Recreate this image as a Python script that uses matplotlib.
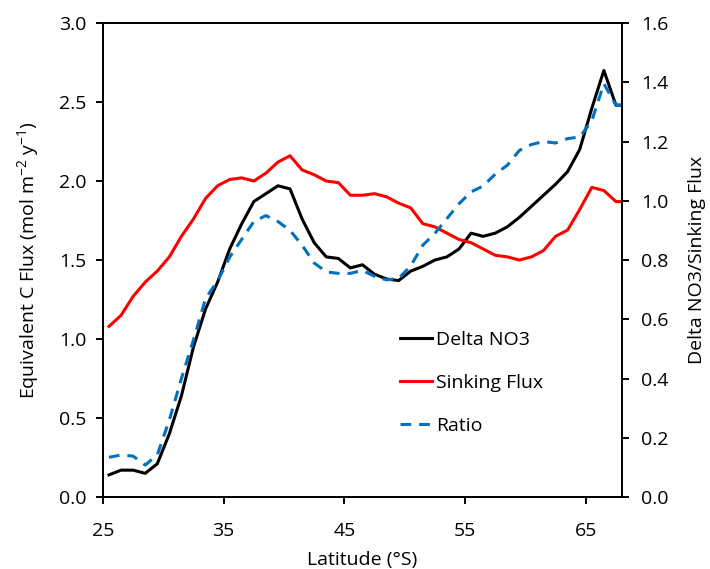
import matplotlib
matplotlib.use("Agg")
import matplotlib.pyplot as plt

plt.rcParams['font.family'] = ['Open Sans', 'DejaVu Sans']
plt.rcParams['mathtext.default'] = 'regular'

# latitude (degrees S)
latitude = [25.5, 26.5, 27.5, 28.5, 29.5, 30.5, 31.5, 32.5, 33.5, 34.5,
            35.5, 36.5, 37.5, 38.5, 39.5, 40.5, 41.5, 42.5, 43.5, 44.5,
            45.5, 46.5, 47.5, 48.5, 49.5, 50.5, 51.5, 52.5, 53.5, 54.5,
            55.5, 56.5, 57.5, 58.5, 59.5, 60.5, 61.5, 62.5, 63.5, 64.5,
            65.5, 66.5, 67.5, 68.0]

# equivalent C flux (mol m-2 y-1)
delta_no3 = [0.14, 0.17, 0.17, 0.15, 0.21, 0.40, 0.64, 0.95, 1.19, 1.36,
             1.57, 1.73, 1.87, 1.92, 1.97, 1.95, 1.76, 1.61, 1.52, 1.51,
             1.45, 1.47, 1.41, 1.38, 1.37, 1.43, 1.46, 1.50, 1.52, 1.57,
             1.67, 1.65, 1.67, 1.71, 1.77, 1.84, 1.91, 1.98, 2.06, 2.20,
             2.46, 2.70, 2.48, 2.48]

sinking_flux = [1.08, 1.15, 1.27, 1.36, 1.43, 1.52, 1.65, 1.76, 1.89, 1.97,
                2.01, 2.02, 2.00, 2.05, 2.12, 2.16, 2.07, 2.04, 2.00, 1.99,
                1.91, 1.91, 1.92, 1.90, 1.86, 1.83, 1.73, 1.71, 1.67, 1.63,
                1.61, 1.57, 1.53, 1.52, 1.50, 1.52, 1.56, 1.65, 1.69, 1.82,
                1.96, 1.94, 1.87, 1.87]

# Delta NO3 / Sinking Flux (right axis)
ratio = [0.134, 0.142, 0.138, 0.108, 0.142, 0.26, 0.40, 0.53, 0.67, 0.73,
         0.81, 0.87, 0.93, 0.95, 0.93, 0.90, 0.85, 0.79, 0.76, 0.755,
         0.755, 0.765, 0.745, 0.733, 0.738, 0.78, 0.85, 0.89, 0.94, 0.99,
         1.03, 1.05, 1.09, 1.12, 1.17, 1.19, 1.20, 1.195, 1.21, 1.215,
         1.27, 1.395, 1.323, 1.323]

x_ticks = [25, 35, 45, 55, 65]
left_ticks = [0.0, 0.5, 1.0, 1.5, 2.0, 2.5, 3.0]
right_ticks = [0.0, 0.2, 0.4, 0.6, 0.8, 1.0, 1.2, 1.4, 1.6]

fig = plt.figure(figsize=(7.1, 5.69), dpi=100)
ax = fig.add_axes([0.145, 0.1265, 0.731, 0.833])
ax2 = ax.twinx()

l1, = ax.plot(latitude, delta_no3, color='black', lw=2.2, label='Delta NO3')
l2, = ax.plot(latitude, sinking_flux, color='#FF0000', lw=2.2, label='Sinking Flux')
l3, = ax2.plot(latitude, ratio, color='#0070C0', lw=2.2, ls=(0, (3.5, 2.6)), label='Ratio')

ax.set_xlim(25, 68)
ax.set_ylim(0, 3.0)
ax2.set_ylim(0, 1.6)
ax.set_xticks(x_ticks)
ax.set_yticks(left_ticks)
ax.set_yticklabels([f"{v:.1f}" for v in left_ticks])
ax2.set_yticks(right_ticks)
ax2.set_yticklabels([f"{v:.1f}" for v in right_ticks])

for a in (ax, ax2):
    for s in a.spines.values():
        s.set_linewidth(1.4)
        s.set_color('black')
    a.tick_params(direction='out', length=5, width=1.4, labelsize=14, colors='black')
ax.tick_params(axis='x', pad=13)
ax.tick_params(axis='y', pad=7)
ax2.tick_params(axis='y', pad=9)

ax.set_xlabel('Latitude (°S)', fontsize=14, labelpad=8)
ax.set_ylabel('Equivalent C Flux (mol m$^{-2}$ y$^{-1}$)', fontsize=14, labelpad=13)
ax2.set_ylabel('Delta NO3/Sinking Flux', fontsize=14, labelpad=14)

leg = ax.legend(handles=[l1, l2, l3], loc='upper left',
                bbox_to_anchor=(0.538, 0.387), frameon=False, fontsize=14,
                handlelength=1.65, handletextpad=0.2, labelspacing=1.28)

fig.savefig('out.png', dpi=100)
